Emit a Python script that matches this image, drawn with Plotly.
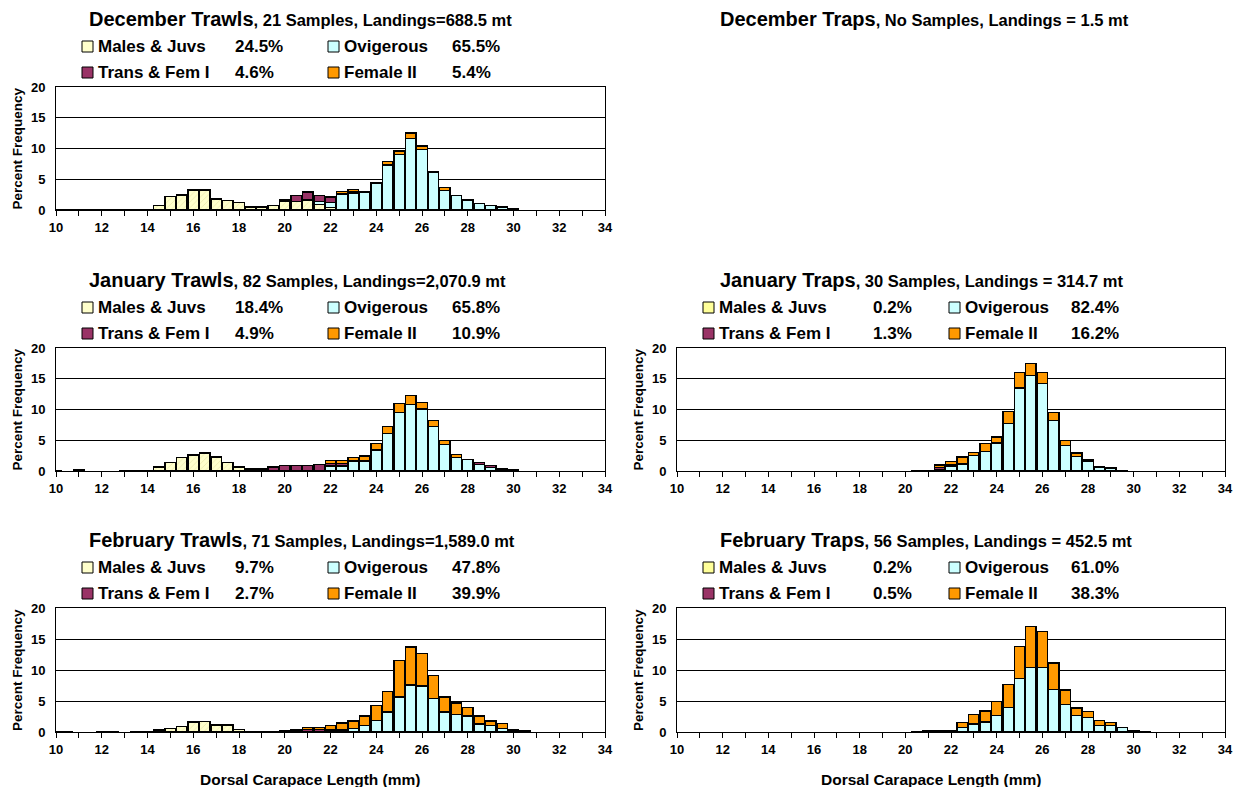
import plotly.graph_objects as go

# the page adds an 8px body margin, so the figure is drawn 8px in from the corner
PAGE_PAD = 8
W, H = 1243 - 2 * PAGE_PAD, 795 - 2 * PAGE_PAD
FONT = "Arial, 'Liberation Sans', sans-serif"

# carapace length bins (mm), 10.0 .. 30.5 in 0.5 steps
lengths = [10 + 0.5 * i for i in range(42)]
x_ticks = list(range(10, 35))
x_tick_text = [str(v) if v % 2 == 0 else "" for v in x_ticks]
y_ticks = [0, 5, 10, 15, 20]

series_names = ["Males & Juvs", "Ovigerous", "Trans & Fem I", "Female II"]
trawl_colors = ["#FFFFCC", "#CCFFFF", "#993366", "#FF9900"]
trap_colors = ["#FFFF99", "#CCFFFF", "#993366", "#FF9900"]

# ---- December Trawls
dec_trawl_males = [0.1, 0.1, 0.1, 0.1, 0.1, 0.1, 0.1, 0.1, 0.1, 0.7, 2.2, 2.45, 3.25, 3.25, 1.8, 1.5, 1.2, 0.5, 0.5, 0.75,
                   1.4, 1.35, 1.6, 0.9, 0.4, 0, 0, 0, 0, 0, 0, 0, 0, 0, 0, 0, 0, 0, 0, 0, 0, 0]
dec_trawl_ovig = [0, 0, 0, 0, 0, 0, 0, 0, 0, 0, 0, 0, 0, 0, 0, 0, 0, 0, 0, 0,
                  0, 0, 0, 0.5, 0.8, 2.5, 2.7, 2.9, 4.3, 7.2, 9.0, 11.6, 9.8, 6.2, 3.2, 2.4, 1.6, 1.1, 0.75, 0.5, 0.2, 0]
dec_trawl_trans = [0, 0, 0, 0, 0, 0, 0, 0, 0, 0, 0, 0, 0, 0, 0, 0, 0, 0, 0, 0,
                   0.25, 1.0, 1.3, 1.0, 0.8, 0.15, 0.2, 0.15, 0.15, 0.1, 0, 0, 0, 0.1, 0, 0, 0.1, 0, 0, 0, 0, 0]
dec_trawl_fem2 = [0, 0, 0, 0, 0, 0, 0, 0, 0, 0, 0, 0, 0, 0, 0, 0, 0, 0, 0, 0,
                  0, 0, 0, 0, 0.15, 0.4, 0.4, 0, 0, 0.6, 0.6, 0.9, 0.6, 0, 0.5, 0, 0, 0, 0, 0, 0, 0]

# ---- January Trawls
jan_trawl_males = [0.1, 0, 0.15, 0, 0, 0, 0.1, 0.1, 0.1, 0.65, 1.35, 2.2, 2.6, 2.9, 2.3, 1.35, 0.65, 0.2, 0.15, 0,
                   0, 0, 0, 0, 0, 0, 0, 0, 0, 0, 0, 0, 0, 0, 0, 0, 0, 0, 0, 0, 0, 0]
jan_trawl_ovig = [0, 0, 0, 0, 0, 0, 0, 0, 0, 0, 0, 0, 0, 0, 0, 0, 0, 0, 0, 0,
                  0, 0, 0, 0, 0.8, 0.8, 1.6, 1.6, 3.4, 6.1, 9.5, 10.8, 10.05, 7.2, 4.35, 2.2, 1.9, 1.1, 0.6, 0.2, 0.1, 0]
jan_trawl_trans = [0, 0, 0, 0, 0, 0, 0, 0, 0, 0, 0, 0, 0, 0, 0.1, 0, 0, 0.15, 0.2, 0.65,
                   0.9, 0.9, 0.9, 1.1, 0.45, 0.4, 0, 0, 0, 0, 0, 0, 0, 0, 0, 0, 0, 0.3, 0.3, 0.2, 0.1, 0]
jan_trawl_fem2 = [0, 0, 0, 0, 0, 0, 0, 0, 0, 0, 0, 0, 0, 0, 0, 0, 0, 0, 0, 0,
                  0, 0, 0, 0, 0.5, 0.55, 0.6, 0.85, 1.05, 1.1, 1.5, 1.5, 1.05, 1.05, 0.65, 0.5, 0, 0, 0, 0, 0, 0]

# ---- January Traps
jan_trap_males = [0, 0, 0, 0, 0, 0, 0, 0, 0, 0, 0, 0, 0, 0, 0, 0, 0, 0, 0, 0,
                  0, 0, 0, 0, 0.1, 0, 0.1, 0, 0, 0, 0, 0, 0, 0, 0, 0, 0, 0, 0, 0, 0, 0]
jan_trap_ovig = [0, 0, 0, 0, 0, 0, 0, 0, 0, 0, 0, 0, 0, 0, 0, 0, 0, 0, 0, 0,
                 0, 0, 0, 0.2, 0.7, 1.05, 2.4, 3.15, 4.5, 7.7, 13.5, 15.5, 14.2, 8.2, 4.1, 2.4, 1.6, 0.65, 0.5, 0.05, 0, 0]
jan_trap_trans = [0, 0, 0, 0, 0, 0, 0, 0, 0, 0, 0, 0, 0, 0, 0, 0, 0, 0, 0, 0,
                  0, 0.1, 0.1, 0.4, 0.2, 0.2, 0, 0, 0.1, 0, 0, 0, 0, 0, 0, 0, 0.3, 0.1, 0, 0, 0, 0]
jan_trap_fem2 = [0, 0, 0, 0, 0, 0, 0, 0, 0, 0, 0, 0, 0, 0, 0, 0, 0, 0, 0, 0,
                 0, 0, 0, 0.4, 0.5, 1.0, 0.5, 1.3, 0.95, 2.0, 2.5, 2.0, 1.8, 1.3, 0.9, 0.5, 0, 0, 0, 0, 0, 0]

# ---- February Trawls
feb_trawl_males = [0.1, 0.1, 0, 0, 0.1, 0.1, 0, 0.1, 0.1, 0.35, 0.6, 0.9, 1.6, 1.7, 1.15, 1.05, 0.45, 0.1, 0.1, 0.1,
                   0.1, 0, 0, 0, 0, 0, 0, 0, 0, 0, 0, 0, 0, 0, 0, 0, 0, 0, 0, 0, 0, 0]
feb_trawl_ovig = [0, 0, 0, 0, 0, 0, 0, 0, 0, 0, 0, 0, 0, 0, 0, 0, 0, 0, 0, 0,
                  0, 0, 0, 0, 0.15, 0.35, 0.6, 1.05, 1.9, 3.2, 5.65, 7.6, 7.4, 5.45, 3.2, 2.8, 2.55, 1.3, 1.05, 0.6, 0.15, 0]
feb_trawl_trans = [0, 0, 0, 0, 0, 0, 0, 0, 0, 0, 0, 0, 0, 0, 0, 0.1, 0, 0, 0, 0,
                   0.05, 0.35, 0.4, 0.4, 0.2, 0.05, 0, 0, 0, 0, 0, 0, 0, 0, 0, 0, 0, 0, 0, 0, 0.2, 0.15]
feb_trawl_fem2 = [0, 0, 0, 0, 0, 0, 0, 0, 0, 0, 0, 0, 0, 0, 0, 0, 0, 0, 0, 0,
                  0, 0, 0.3, 0.3, 0.7, 1.05, 1.2, 1.55, 2.35, 3.3, 5.85, 6.1, 5.3, 3.65, 2.45, 1.9, 1.45, 1.25, 0.75, 0.8, 0, 0]

# ---- February Traps
feb_trap_males = [0, 0, 0, 0, 0, 0, 0, 0, 0, 0, 0, 0, 0, 0, 0, 0, 0, 0, 0, 0,
                  0, 0, 0, 0, 0, 0.1, 0.1, 0, 0, 0, 0, 0, 0, 0, 0, 0, 0, 0, 0, 0, 0, 0]
feb_trap_ovig = [0, 0, 0, 0, 0, 0, 0, 0, 0, 0, 0, 0, 0, 0, 0, 0, 0, 0, 0, 0,
                 0, 0, 0, 0, 0, 0.6, 1.2, 1.55, 2.7, 4.0, 8.6, 10.4, 10.4, 6.9, 4.45, 2.7, 2.35, 1.05, 1.05, 0.75, 0.15, 0.05]
feb_trap_trans = [0, 0, 0, 0, 0, 0, 0, 0, 0, 0, 0, 0, 0, 0, 0, 0, 0, 0, 0, 0,
                  0, 0.1, 0.2, 0.2, 0.2, 0, 0.1, 0.05, 0, 0, 0, 0, 0, 0, 0, 0, 0, 0, 0, 0, 0.1, 0]
feb_trap_fem2 = [0, 0, 0, 0, 0, 0, 0, 0, 0, 0, 0, 0, 0, 0, 0, 0, 0, 0, 0, 0,
                 0, 0, 0, 0, 0, 0.85, 1.4, 1.8, 2.25, 3.65, 5.2, 6.6, 5.8, 4.2, 2.3, 1.2, 1.0, 0.8, 0.5, 0, 0, 0]

# title, subtitle, legend percentages
dec_trawl_text = ("December Trawls", ", 21 Samples, Landings=688.5 mt", ["24.5%", "65.5%", "4.6%", "5.4%"])
dec_trap_text = ("December Traps", ", No Samples, Landings = 1.5 mt", None)
jan_trawl_text = ("January Trawls", ", 82 Samples, Landings=2,070.9 mt", ["18.4%", "65.8%", "4.9%", "10.9%"])
jan_trap_text = ("January Traps", ", 30 Samples, Landings = 314.7 mt", ["0.2%", "82.4%", "1.3%", "16.2%"])
feb_trawl_text = ("February Trawls", ", 71 Samples, Landings=1,589.0 mt", ["9.7%", "47.8%", "2.7%", "39.9%"])
feb_trap_text = ("February Traps", ", 56 Samples, Landings = 452.5 mt", ["0.2%", "61.0%", "0.5%", "38.3%"])

# layout in screen pixels
col_x = {"L": (56, 605), "R": (677, 1225)}
row_y = [(87, 210), (348, 471), (608, 732)]


def px(x, y):
    return (x - PAGE_PAD) / W, 1 - (y - PAGE_PAD) / H


panels = [
    ("L", 0, dec_trawl_text, [dec_trawl_males, dec_trawl_ovig, dec_trawl_trans, dec_trawl_fem2], trawl_colors),
    ("R", 0, dec_trap_text, None, trap_colors),
    ("L", 1, jan_trawl_text, [jan_trawl_males, jan_trawl_ovig, jan_trawl_trans, jan_trawl_fem2], trawl_colors),
    ("R", 1, jan_trap_text, [jan_trap_males, jan_trap_ovig, jan_trap_trans, jan_trap_fem2], trap_colors),
    ("L", 2, feb_trawl_text, [feb_trawl_males, feb_trawl_ovig, feb_trawl_trans, feb_trawl_fem2], trawl_colors),
    ("R", 2, feb_trap_text, [feb_trap_males, feb_trap_ovig, feb_trap_trans, feb_trap_fem2], trap_colors),
]

fig = go.Figure()
annotations = []
shapes = []
layout_axes = {}
axis_n = 0

for col, row, texts, data, colors in panels:
    x0, x1 = col_x[col]
    top, bottom = row_y[row]
    title, subtitle, pcts = texts

    # title
    tx = x0 + (31 if col == "L" else 41)
    ax_, ay_ = px(tx, top - 68)
    annotations.append(dict(
        x=ax_, y=ay_, xref="paper", yref="paper", xanchor="left", yanchor="middle", showarrow=False,
        text="<span style='font-size:20px'><b>" + title + "</b></span><b>" + subtitle + "</b>",
        font=dict(family=FONT, size=16.5, color="black")))

    if data is None:
        continue

    # legend block
    name_x = [x0 + 40, x0 + 286, x0 + 40, x0 + 286]
    pct_x = ([x0 + 177, x0 + 394, x0 + 177, x0 + 394] if col == "L"
             else [x0 + 194, x0 + 392, x0 + 194, x0 + 392])
    leg_y = [top - 41, top - 41, top - 15, top - 15]
    for k in range(4):
        nx, ny = px(name_x[k], leg_y[k])
        annotations.append(dict(x=nx, y=ny, xref="paper", yref="paper", xanchor="left", yanchor="middle",
                                showarrow=False, text="<b>" + series_names[k] + "</b>",
                                font=dict(family=FONT, size=17, color="black")))
        pxx, pyy = px(pct_x[k], leg_y[k])
        annotations.append(dict(x=pxx, y=pyy, xref="paper", yref="paper", xanchor="left", yanchor="middle",
                                showarrow=False, text="<b>" + pcts[k] + "</b>",
                                font=dict(family=FONT, size=17, color="black")))
        bx0, by0 = px(name_x[k] - 14, leg_y[k] + 6)
        bx1, by1 = px(name_x[k] - 3, leg_y[k] - 5)
        shapes.append(dict(type="rect", xref="paper", yref="paper", x0=bx0, y0=by0, x1=bx1, y1=by1,
                           fillcolor=colors[k], line=dict(color="black", width=1)))

    # axes
    axis_n += 1
    sfx = "" if axis_n == 1 else str(axis_n)
    xd = [px(x0, 0)[0], px(x1, 0)[0]]
    yd = [px(0, bottom)[1], px(0, top)[1]]
    layout_axes["xaxis" + sfx] = dict(
        domain=xd, range=[10, 34], anchor="y" + sfx, tickmode="array", tickvals=x_ticks, ticktext=x_tick_text,
        ticks="outside", ticklen=5, tickcolor="black", showline=True, linecolor="black", linewidth=1,
        mirror=True, showgrid=False, zeroline=False, automargin=False,
        tickfont=dict(family=FONT, size=13, color="black", weight="bold"))
    layout_axes["yaxis" + sfx] = dict(
        domain=yd, range=[0, 20], anchor="x" + sfx, tickmode="array", tickvals=y_ticks,
        ticks="outside", ticklen=7, tickcolor="white", showline=True, linecolor="black", linewidth=1,
        mirror=True, showgrid=True, gridcolor="black", gridwidth=1, zeroline=False, automargin=False,
        tickfont=dict(family=FONT, size=13, color="black", weight="bold"))

    for k in range(4):
        marker = dict(color=colors[k], line=dict(color="black", width=1.4))
        if k == 0 and col == "L":
            marker["pattern"] = dict(shape="/", fgcolor="#D9D38F", size=4, solidity=0.2, fillmode="overlay")
        fig.add_trace(go.Bar(
            x=lengths, y=[v if v else None for v in data[k]], width=0.46, name=series_names[k],
            marker=marker, xaxis="x" + sfx, yaxis="y" + sfx, showlegend=False))

    # y axis title
    yx, yy = px(x0 - 39, (top + bottom) / 2)
    annotations.append(dict(x=yx, y=yy, xref="paper", yref="paper", xanchor="center", yanchor="middle",
                            showarrow=False, textangle=-90, text="<b>Percent Frequency</b>",
                            font=dict(family=FONT, size=13.5, color="black")))

# x axis titles under the bottom row
for cx in (310, 931):
    ax_, ay_ = px(cx, 779)
    annotations.append(dict(x=ax_, y=ay_, xref="paper", yref="paper", xanchor="center", yanchor="middle",
                            showarrow=False, text="<b>Dorsal Carapace Length (mm)</b>",
                            font=dict(family=FONT, size=15.5, color="black")))

fig.update_layout(
    width=W, height=H, barmode="stack", paper_bgcolor="white", plot_bgcolor="white",
    margin=dict(l=0, r=0, t=0, b=0, autoexpand=False), showlegend=False,
    annotations=annotations, shapes=shapes, **layout_axes)

fig.write_html("out.html")
